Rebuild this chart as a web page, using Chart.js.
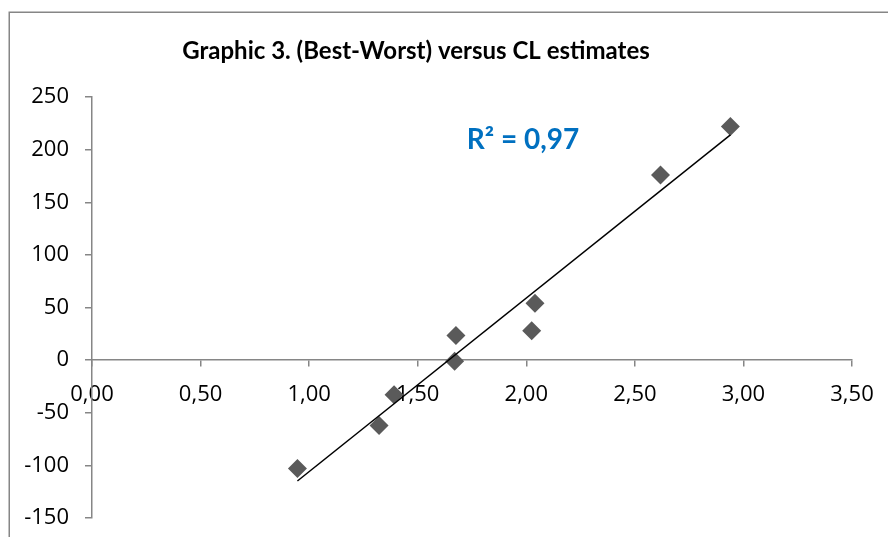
<!DOCTYPE html>
<html>
<head>
<meta charset="utf-8">
<script src="https://cdn.jsdelivr.net/npm/chart.js@4.4.1/dist/chart.umd.min.js"></script>
<style>
  html, body { margin: 0; padding: 0; background: #ffffff; }
  #wrap { width: 888px; height: 537px; position: relative; }
</style>
</head>
<body>
<div id="wrap"><canvas id="c" width="888" height="537"></canvas></div>
<script>
// ---- data ----
const clEstimates = [0.946, 1.322, 1.391, 1.676, 1.670, 2.040, 2.025, 2.618, 2.940];
const bestWorst   = [-103, -62, -33, 23.5, -1, 54, 28, 176, 222];
const xTickValues = [0, 0.5, 1, 1.5, 2, 2.5, 3, 3.5];
const yTickValues = [-150, -100, -50, 0, 50, 100, 150, 200, 250];
const titleText = 'Graphic 3. (Best-Worst) versus CL estimates';
const r2Text = 'R² = 0,97';

// linear least-squares trendline (as Excel's linear trendline)
const n = clEstimates.length;
const mx = clEstimates.reduce((a, b) => a + b, 0) / n;
const my = bestWorst.reduce((a, b) => a + b, 0) / n;
let sxy = 0, sxx = 0;
for (let i = 0; i < n; i++) { sxy += (clEstimates[i] - mx) * (bestWorst[i] - my); sxx += (clEstimates[i] - mx) ** 2; }
const slope = sxy / sxx;
const intercept = my - slope * mx;
const xMin = Math.min(...clEstimates), xMax = Math.max(...clEstimates);
const trendPoints = [{x: xMin, y: intercept + slope * xMin}, {x: xMax, y: intercept + slope * xMax}];

const points = clEstimates.map((x, i) => ({x, y: bestWorst[i]}));

const axisGray = '#868686';
const tickFont = 'Open Sans';

function zeroPad(s) {
  s.paddingTop = 0; s.paddingBottom = 0; s.paddingLeft = 0; s.paddingRight = 0;
}

const framePlugin = {
  id: 'frame',
  beforeDraw(chart) {
    const ctx = chart.ctx;
    ctx.save();
    ctx.fillStyle = '#ffffff';
    ctx.fillRect(0, 0, chart.width, chart.height);
    ctx.strokeStyle = axisGray;
    ctx.lineWidth = 1.5;
    ctx.strokeRect(9.25, 12.25, chart.width + 20, chart.height + 20);
    ctx.restore();
  },
  afterDraw(chart) {
    const ctx = chart.ctx;
    ctx.save();
    ctx.fillStyle = '#000000';
    ctx.font = 'bold 24px Lato';
    ctx.textAlign = 'center';
    ctx.textBaseline = 'middle';
    ctx.fillText(titleText, 416, 51);
    const xs = chart.scales.x, ys = chart.scales.y;
    ctx.fillStyle = '#0070C0';
    ctx.font = 'bold 28px Lato';
    ctx.fillText(r2Text, xs.getPixelForValue(1.985), ys.getPixelForValue(209.5));
    ctx.restore();
  }
};

function build() {
  new Chart(document.getElementById('c'), {
    type: 'scatter',
    data: {
      datasets: [
        {
          type: 'line',
          label: 'Linear trend',
          data: trendPoints,
          borderColor: '#000000',
          borderWidth: 1.5,
          pointRadius: 0,
          fill: false,
          order: 0
        },
        {
          label: 'Best-Worst vs CL',
          data: points,
          pointStyle: 'rectRot',
          pointRadius: 9.5,
          pointHoverRadius: 9.5,
          backgroundColor: '#5a5a5a',
          borderColor: '#5a5a5a',
          borderWidth: 0,
          order: 1
        }
      ]
    },
    options: {
      responsive: false,
      animation: false,
      events: [],
      layout: { padding: { left: 0, right: 36, top: 97, bottom: 19 } },
      plugins: {
        legend: { display: false },
        title: { display: false },
        tooltip: { enabled: false }
      },
      scales: {
        x: {
          type: 'linear',
          position: { y: 0 },
          min: 0, max: 3.5,
          afterBuildTicks: (s) => { s.ticks = xTickValues.map(v => ({value: v})); },
          afterFit: (s) => { s.height = 0; zeroPad(s); },
          grid: { display: true, drawOnChartArea: false, drawTicks: true, tickLength: 6, color: axisGray, lineWidth: 1.5 },
          border: { display: true, color: axisGray, width: 1.5 },
          ticks: {
            color: '#000000',
            font: { family: tickFont, size: 22 },
            padding: 15,
            maxRotation: 0,
            autoSkip: false,
            callback: (v) => Number(v).toFixed(2).replace('.', ',')
          }
        },
        y: {
          type: 'linear',
          position: 'left',
          min: -150, max: 250,
          afterBuildTicks: (s) => { s.ticks = yTickValues.map(v => ({value: v})); },
          afterFit: (s) => { s.width = 92; zeroPad(s); },
          grid: { display: true, drawOnChartArea: false, drawTicks: true, tickLength: 7, color: axisGray, lineWidth: 1.5 },
          border: { display: true, color: axisGray, width: 1.5 },
          ticks: {
            color: '#000000',
            font: { family: tickFont, size: 22 },
            padding: 16,
            autoSkip: false,
            callback: (v) => String(v)
          }
        }
      }
    },
    plugins: [framePlugin]
  });
}

Promise.all([
  document.fonts.load('22px "Open Sans"'),
  document.fonts.load('bold 24px Lato')
]).then(build, build);
</script>
</body>
</html>
